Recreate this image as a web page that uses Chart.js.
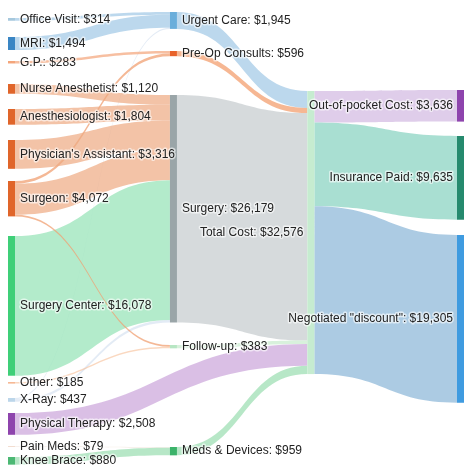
<!DOCTYPE html>
<html><head><meta charset="utf-8">
<script src="https://cdn.jsdelivr.net/npm/chart.js@4/dist/chart.umd.min.js"></script>
<style>html,body{margin:0;padding:0;background:#fff}#w{width:474px;height:474px}</style>
</head><body><div id="w"><canvas id="c"></canvas></div>
<script>
// ---- data ----
const nodeNames = ["Office Visit","MRI","G.P.","Nurse Anesthetist","Anesthesiologist","Physician's Assistant","Surgeon","Surgery Center","Other","X-Ray","Physical Therapy","Pain Meds","Knee Brace",
 "Urgent Care","Pre-Op Consults","Surgery","Follow-up","Meds & Devices","Total Cost","Out-of-pocket Cost","Insurance Paid","Negotiated \"discount\""];
const nodeValues = [314,1494,283,1120,1804,3316,4072,16078,185,437,2508,79,880,1945,596,26179,383,959,32576,3636,9635,19305];
const nodeColumn = [0,0,0,0,0,0,0,0,0,0,0,0,0,1,1,1,1,1,2,3,3,3];
const linkSource = [0,1,9,2,6,3,4,5,6,7,9,6,8,11,12,13,14,15,16,10,17,18,18,18];
const linkTarget = [13,13,13,14,14,15,15,15,15,15,15,16,16,17,17,18,18,18,18,18,18,19,20,21];
const linkValues = [314,1494,137,283,313,1120,1804,3316,3561,16078,300,198,185,79,880,1945,596,26179,383,2508,959,3636,9635,19305];

// ---- styling / layout (not data) ----
const nodeColors = ["#a6c8dd","#3a86c4","#f4a57a","#e0652a","#e0652a","#e0652a","#e0652a","#3fcf78","#f6b894","#bcd6ea","#8e44ad","#f2ddd0","#4cb874",
 "#6aaedb","#e8622a","#9aa5a8","#b7e6c3","#3cb36a","#c6ecd0","#8e44ad","#268a6e","#3f9be0"];
const linkColors = ["rgba(160,200,230,0.7)","rgba(160,200,230,0.7)","rgba(200,215,235,0.5)","rgba(244,170,130,0.75)","rgba(240,160,115,0.75)",
 "rgba(238,170,130,0.7)","rgba(238,170,130,0.7)","rgba(238,170,130,0.7)","rgba(238,170,130,0.7)","rgba(160,230,190,0.8)","rgba(200,215,235,0.5)",
 "rgba(240,160,115,0.75)","rgba(246,190,150,0.6)","rgba(240,225,215,0.6)","rgba(165,225,185,0.8)","rgba(160,200,230,0.7)","rgba(244,165,120,0.8)",
 "rgba(212,216,218,0.95)","rgba(200,235,205,0.7)","rgba(212,180,225,0.85)","rgba(165,225,185,0.8)","rgba(220,200,232,0.9)","rgba(160,220,205,0.9)","rgba(168,200,225,0.95)"];
const nodeTopPx = [18,37,61,84,109,140,181,236,382,398,413,446,457, 12,51,95,345,447, 91, 90,136,235];
const colX = [0,1.082,2.0,3];
const PX_PER_DOLLAR = 0.00869;

const sankeyPlugin = {
  id:'sankey',
  afterDatasetsDraw(chart){
    const ctx = chart.ctx, xs = chart.scales.x, ys = chart.scales.y;
    const W = 7;
    const top = nodeTopPx.map(p=>ys.getValueForPixel(p));
    const nx = i=>xs.getPixelForValue(colX[nodeColumn[i]]);
    const py = v=>ys.getPixelForValue(v);
    const outOff = nodeNames.map(()=>0), inOff = nodeNames.map(()=>0);
    const idx = linkValues.map((_,i)=>i);
    const srcOrder = [...idx].sort((a,b)=>nodeTopPx[linkTarget[a]]-nodeTopPx[linkTarget[b]]);
    const tgtOrder = [...idx].sort((a,b)=>nodeTopPx[linkSource[a]]-nodeTopPx[linkSource[b]]);
    const s0 = [], t0 = [];
    srcOrder.forEach(i=>{const s=linkSource[i]; s0[i]=top[s]+outOff[s]; outOff[s]+=linkValues[i];});
    tgtOrder.forEach(i=>{const t=linkTarget[i]; t0[i]=top[t]+inOff[t]; inOff[t]+=linkValues[i];});
    idx.forEach(i=>{
      const s=linkSource[i], t=linkTarget[i], v=linkValues[i];
      const x0=nx(s)+W, x1=nx(t), xm=(x0+x1)/2;
      const a0=py(s0[i]), a1=py(s0[i]+v), b0=py(t0[i]), b1=py(t0[i]+v);
      ctx.beginPath();
      ctx.moveTo(x0,a0); ctx.bezierCurveTo(xm,a0,xm,b0,x1,b0);
      ctx.lineTo(x1,b1); ctx.bezierCurveTo(xm,b1,xm,a1,x0,a1); ctx.closePath();
      ctx.fillStyle=linkColors[i]; ctx.fill();
    });
    nodeNames.forEach((n,i)=>{
      const x=nx(i), y0=py(top[i]), y1=py(top[i]+nodeValues[i]);
      ctx.fillStyle=nodeColors[i]; ctx.fillRect(x,y0,W,Math.max(1,y1-y0));
    });
    ctx.font='12px Arial, "Liberation Sans", sans-serif';
    ctx.textBaseline='middle'; ctx.fillStyle='#222';
    nodeNames.forEach((n,i)=>{
      const label = n+': $'+nodeValues[i].toLocaleString('en-US');
      const x=nx(i), yc=(py(top[i])+py(top[i]+nodeValues[i]))/2;
      const c=nodeColumn[i];
      ctx.lineWidth=3; ctx.strokeStyle='rgba(255,255,255,0.6)'; ctx.lineJoin='round';
      if(c===3 || c===2){ ctx.textAlign='right'; ctx.strokeText(label,x-4,yc); ctx.fillText(label,x-4,yc); }
      else { ctx.textAlign='left'; ctx.strokeText(label,x+W+5,yc); ctx.fillText(label,x+W+5,yc); }
    });
  }
};

new Chart(document.getElementById('c'),{
  type:'scatter',
  data:{datasets:[{data:[]}]},
  options:{
    responsive:true, maintainAspectRatio:false, animation:false,
    layout:{padding:{left:8,right:17,top:0,bottom:0}},
    plugins:{legend:{display:false},tooltip:{enabled:false}},
    scales:{
      x:{type:'linear',min:0,max:3,display:false},
      y:{type:'linear',min:0,max:474/PX_PER_DOLLAR,reverse:true,display:false}
    }
  },
  plugins:[sankeyPlugin]
});
</script></body></html>
